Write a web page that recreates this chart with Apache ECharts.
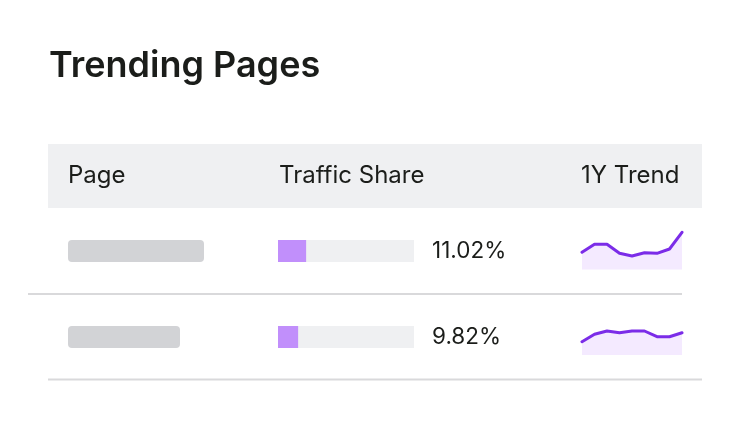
<!DOCTYPE html>
<html>
<head>
<meta charset="utf-8">
<script src="https://cdn.jsdelivr.net/npm/echarts@6/dist/echarts.min.js"></script>
<style>
  html, body { margin: 0; padding: 0; background: #fff; }
  #main { width: 750px; height: 436px; }
</style>
</head>
<body>
<div id="main"></div>
<script>
// table data
var headers = ['Page', 'Traffic Share', '1Y Trend'];
var shares = [11.02, 9.82];
var months = ['M1', 'M2', 'M3', 'M4', 'M5', 'M6', 'M7', 'M8', 'M9'];
var trendRow1 = [17.2, 25.2, 25.2, 16.2, 13.5, 16.8, 16.2, 20.5, 37.2];
var trendRow2 = [13.3, 20.7, 24.0, 22.3, 24.0, 24.0, 18.3, 18.3, 22.3];

var chart = echarts.init(document.getElementById('main'));
var font = 'Inter, "Noto Sans", sans-serif';
var textColor = '#1b1d1a';

function sparkSeries(idx, data) {
    return {
        type: 'line',
        xAxisIndex: idx, yAxisIndex: idx,
        data: data,
        symbol: 'none',
        smooth: false,
        lineStyle: { color: '#7b2ce8', width: 3, join: 'round', cap: 'round' },
        areaStyle: { color: '#f4eaff', opacity: 1 },
        silent: true
    };
}

function headerText(x, txt) {
    return {
        type: 'text',
        style: { x: x, y: 176, text: txt, fontFamily: font, fontSize: 24, fill: textColor, verticalAlign: 'middle' }
    };
}

var option = {
    animation: false,
    graphic: [
        {
            type: 'text',
            style: { x: 49, y: 66, text: 'Trending Pages', fontFamily: font, fontSize: 36, fontWeight: 600, fill: textColor, verticalAlign: 'middle' }
        },
        { type: 'rect', z: -10, shape: { x: 48, y: 144, width: 654, height: 64 }, style: { fill: '#eff0f2' } },
        headerText(68, headers[0]),
        headerText(279, headers[1]),
        headerText(581, headers[2]),
        // page name skeletons
        { type: 'rect', shape: { x: 68, y: 240, width: 136, height: 22, r: 4 }, style: { fill: '#d2d3d6' } },
        { type: 'rect', shape: { x: 68, y: 326, width: 112, height: 22, r: 4 }, style: { fill: '#d2d3d6' } },
        // row dividers
        { type: 'line', shape: { x1: 28, y1: 294, x2: 682, y2: 294 }, style: { stroke: '#d9d9db', lineWidth: 2 } },
        { type: 'line', shape: { x1: 48, y1: 379.5, x2: 702, y2: 379.5 }, style: { stroke: '#d9d9db', lineWidth: 2 } }
    ],
    grid: [
        { left: 278, top: 208, width: 136, height: 172 },
        { left: 582, top: 229.5, width: 100, height: 40 },
        { left: 582, top: 315, width: 100, height: 40 }
    ],
    xAxis: [
        { gridIndex: 0, type: 'value', min: 6.8, max: 27.2, show: false },
        { gridIndex: 1, type: 'category', data: months, boundaryGap: false, show: false },
        { gridIndex: 2, type: 'category', data: months, boundaryGap: false, show: false }
    ],
    yAxis: [
        {
            gridIndex: 0, type: 'category', inverse: true, position: 'right',
            data: shares.map(function (v) { return v.toFixed(2) + '%'; }),
            axisLine: { show: false }, axisTick: { show: false }, splitLine: { show: false },
            axisLabel: { margin: 18, align: 'left', fontFamily: font, fontSize: 22.5, color: textColor }
        },
        { gridIndex: 1, type: 'value', min: 0, max: 40, show: false },
        { gridIndex: 2, type: 'value', min: 0, max: 40, show: false }
    ],
    series: [
        {
            type: 'bar',
            xAxisIndex: 0, yAxisIndex: 0,
            data: shares,
            barWidth: 22,
            itemStyle: { color: '#c18ffb' },
            showBackground: true,
            backgroundStyle: { color: '#eff0f2' },
            silent: true
        },
        sparkSeries(1, trendRow1),
        sparkSeries(2, trendRow2)
    ]
};
chart.setOption(option);
</script>
</body>
</html>
